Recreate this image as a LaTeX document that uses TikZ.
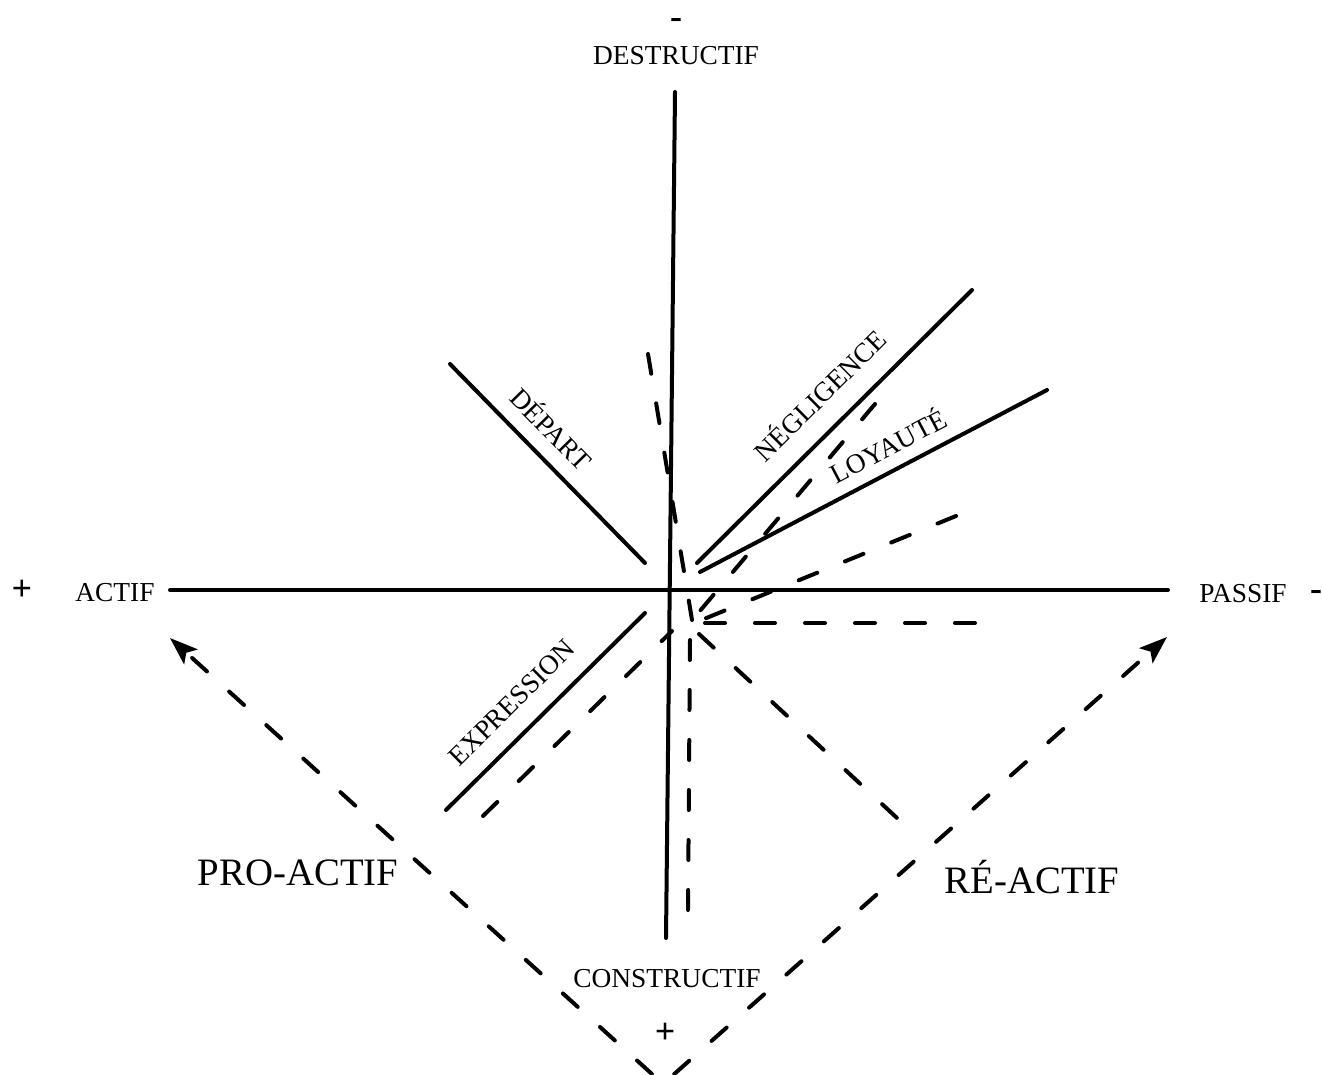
\documentclass[tikz,border=0pt]{standalone}
\usepackage{fontspec}
\setmainfont{Liberation Serif}
\usetikzlibrary{arrows.meta}
\begin{document}
\begin{tikzpicture}[x=0.5pt,y=-0.5pt,
  axis/.style={line width=2pt, line cap=round},
  stance/.style={line width=2pt, line cap=round},
  flow/.style={line width=2pt, line cap=round, dash pattern=on 10pt off 15pt},
  lbl/.style={font=\fontsize{13.7}{16}\selectfont, inner sep=0pt},
  slopelbl/.style={font=\fontsize{13.7}{16}\selectfont, sloped, above},
  biglbl/.style={font=\fontsize{19.4}{22}\selectfont, inner sep=0pt, anchor=base},
  sign/.style={font=\fontsize{18}{20}\selectfont\bfseries, inner sep=0pt},
  tip/.style={-{Stealth[length=14pt,width=10pt,inset=3pt]}}
]
\useasboundingbox (0,0) rectangle (1322,1075);

% axis labels
\node[sign, anchor=base] (minusTop) at (676,29) {-};
\node[lbl, anchor=base] (destructif) at (676,65) {DESTRUCTIF};
\node[sign] (plusLeft) at (22,590) {+};
\node[lbl, anchor=base] (actif) at (115,601) {ACTIF};
\node[lbl, anchor=base] (passif) at (1243,602) {PASSIF};
\node[sign, anchor=base] (minusRight) at (1316,600) {-};
\node[lbl, anchor=base] (constructif) at (667,987) {CONSTRUCTIF};
\node[sign] (plusBottom) at (665,1033) {+};
\node[biglbl] (proactif) at (298,885) {PRO-ACTIF};
\node[biglbl] (reactif) at (1032,893) {RÉ-ACTIF};

% axes
\coordinate (top) at (675,92);
\coordinate (bottom) at (666,938);
\coordinate (left) at (170,590);
\coordinate (right) at (1168,590);
\draw[axis] (top) -- (bottom);
\draw[axis] (left) -- (right);

% the four responses
\coordinate (depA) at (450,364);  \coordinate (depB) at (645,563);
\coordinate (negA) at (697,563);  \coordinate (negB) at (972,290);
\coordinate (loyA) at (700,572);  \coordinate (loyB) at (1047,390);
\coordinate (expA) at (446,810);  \coordinate (expB) at (645,613);
\draw[stance] (depA) -- node[slopelbl, pos=0.42, inner sep=7.4pt] (depart) {DÉPART} (depB);
\draw[stance] (negA) -- node[slopelbl, pos=0.53, inner sep=10pt] (negligence) {NÉGLIGENCE} (negB);
\draw[stance] (loyA) -- node[slopelbl, pos=0.575, inner sep=6pt] (loyaute) {LOYAUTÉ} (loyB);
\draw[stance] (expA) -- node[slopelbl, pos=0.436, inner sep=9.3pt] (expression) {EXPRESSION} (expB);

% dashed movements around the centre
\coordinate (f1a) at (648,354);  \coordinate (f1b) at (692,620);
\coordinate (f2a) at (690,640);  \coordinate (f2b) at (688,910);
\coordinate (f3a) at (875,404);  \coordinate (f3b) at (699,612);
\coordinate (f4a) at (956,516);  \coordinate (f4b) at (704,619);
\coordinate (f5a) at (975,623);  \coordinate (f5b) at (705,623);
\coordinate (f6a) at (483,816);  \coordinate (f6b) at (672,631);
\coordinate (f7a) at (699,634);  \coordinate (f7b) at (897,818);
\draw[flow] (f1a) -- (f1b);
\draw[flow] (f2a) -- (f2b);
\draw[flow] (f3a) -- (f3b);
\draw[flow] (f4a) -- (f4b);
\draw[flow] (f5a) -- (f5b);
\draw[flow] (f6a) -- (f6b);
\draw[flow] (f7a) -- (f7b);

% pro-active / re-active arrows
\coordinate (vertex) at (663,1084);
\coordinate (tipL) at (170,638);
\coordinate (tipR) at (1167,637);
\draw[flow, dash phase=17.5pt, tip] (vertex) -- (tipL);
\draw[flow, dash phase=17.5pt, tip] (vertex) -- (tipR);
\end{tikzpicture}
\end{document}
